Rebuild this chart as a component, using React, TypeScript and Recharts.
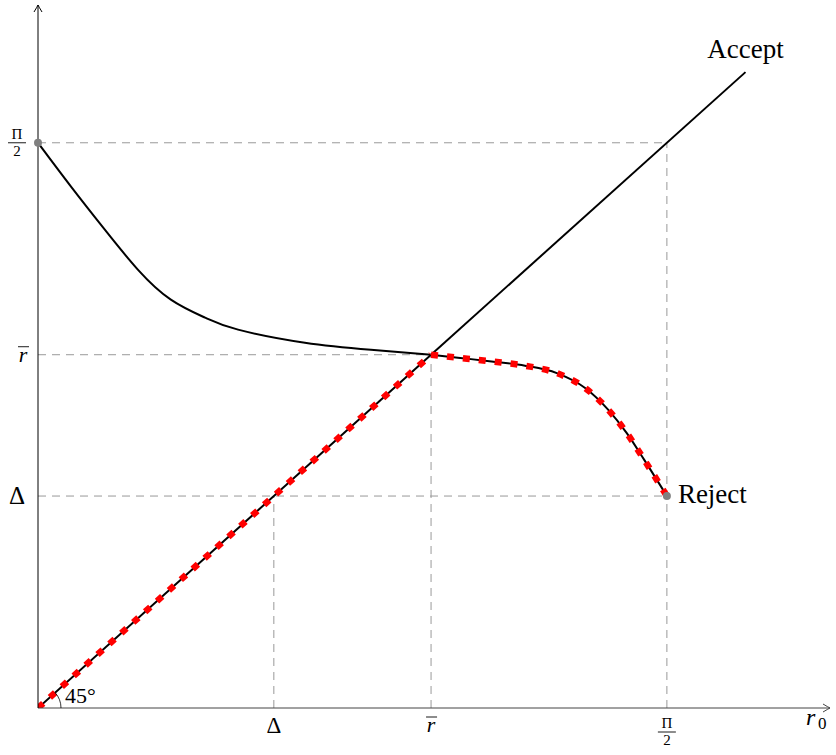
import React from "react";
import { LineChart, Line, XAxis, YAxis, ReferenceLine, ReferenceDot } from "recharts";

const DELTA = 0.6;
const RBAR = 1;
const HALF_PI = 1.6;
const X_MAX = 2.015;
const Y_MAX = 1.99;

const xTicks = [DELTA, RBAR, HALF_PI];
const yTicks = [DELTA, RBAR, HALF_PI];

const diagX = [0, 1];
const diagY = [0, 1];
const acceptX = [1, 1.8];
const acceptY = [1, 1.8];
const upperX = [0, 0.084, 0.17, 0.254, 0.338, 0.425, 0.509, 0.679, 0.847, 1];
const upperY = [1.6, 1.476, 1.354, 1.241, 1.156, 1.105, 1.071, 1.034, 1.014, 1];
const lowerX = [1, 1.074, 1.154, 1.239, 1.32, 1.392, 1.451, 1.498, 1.542, 1.6];
const lowerY = [1, 0.991, 0.981, 0.969, 0.948, 0.906, 0.844, 0.778, 0.703, 0.6];

const zip = (xs: number[], ys: number[]) => xs.map((x, i) => ({ x, y: ys[i] }));
const diagData = zip(diagX, diagY);
const acceptData = zip(acceptX, acceptY);
const upperData = zip(upperX, upperY);
const lowerData = zip(lowerX, lowerY);

const FONT = "'Liberation Serif', 'DejaVu Serif', serif";
const GRID = "#999";

const HalfPi = ({ cx, top }: { cx: number; top: number }) => (
  <g>
    <text x={cx} y={top + 12} textAnchor="middle" fontFamily={FONT} fontSize={15} fill="#000">Π</text>
    <line x1={cx - 9} x2={cx + 9} y1={top + 16} y2={top + 16} stroke="#000" strokeWidth={0.9} />
    <text x={cx} y={top + 29} textAnchor="middle" fontFamily={FONT} fontSize={15} fill="#000">2</text>
  </g>
);

const RBarLabel = ({ cx, base }: { cx: number; base: number }) => (
  <g>
    <text x={cx} y={base} textAnchor="middle" fontFamily={FONT} fontStyle="italic" fontSize={22} fill="#000">r</text>
    <line x1={cx - 5} x2={cx + 6} y1={base - 15} y2={base - 15} stroke="#000" strokeWidth={0.9} />
  </g>
);

const XTick = (props: any) => {
  const { x, y, payload } = props;
  const v = payload.value;
  if (v === DELTA)
    return <text x={x} y={y + 25} textAnchor="middle" fontFamily={FONT} fontSize={23} fill="#000">Δ</text>;
  if (v === RBAR) return <RBarLabel cx={x} base={y + 24} />;
  return <HalfPi cx={x} top={y + 8} />;
};

const YTick = (props: any) => {
  const { x, y, payload } = props;
  const v = payload.value;
  if (v === DELTA)
    return <text x={x - 21} y={y + 8} textAnchor="middle" fontFamily={FONT} fontSize={25} fill="#000">Δ</text>;
  if (v === RBAR) return <RBarLabel cx={x - 15} base={y + 7} />;
  return <HalfPi cx={x - 21} top={y - 16} />;
};

const greyDot = (label?: string) => (p: any) => (
  <g>
    <circle cx={p.cx} cy={p.cy} r={4} fill="#808080" />
    {label ? (
      <text x={p.cx + 11} y={p.cy + 7} fontFamily={FONT} fontSize={27} fill="#000">{label}</text>
    ) : null}
  </g>
);

const acceptLabel = (p: any) => (
  <text x={p.cx} y={p.cy - 14} textAnchor="middle" fontFamily={FONT} fontSize={27} fill="#000">Accept</text>
);

const angleMark = (p: any) => {
  const r = 23;
  const a = Math.atan2(353, 393);
  const x2 = p.cx + r * Math.cos(a);
  const y2 = p.cy - r * Math.sin(a);
  return (
    <g>
      <path d={`M ${p.cx + r} ${p.cy} A ${r} ${r} 0 0 0 ${x2} ${y2}`} fill="none" stroke="#000" strokeWidth={0.8} />
      <text x={p.cx + 27} y={p.cy - 5} fontFamily={FONT} fontSize={22} fill="#000">45°</text>
    </g>
  );
};

const arrowRight = (p: any) => (
  <path d={`M ${p.cx - 7} ${p.cy - 4} Q ${p.cx - 2} ${p.cy - 1} ${p.cx} ${p.cy} Q ${p.cx - 2} ${p.cy + 1} ${p.cx - 7} ${p.cy + 4}`} fill="none" stroke="#444" strokeWidth={1} />
);
const arrowUp = (p: any) => (
  <path d={`M ${p.cx - 4} ${p.cy + 7} Q ${p.cx - 1} ${p.cy + 2} ${p.cx} ${p.cy} Q ${p.cx + 1} ${p.cy + 2} ${p.cx + 4} ${p.cy + 7}`} fill="none" stroke="#000" strokeWidth={1} />
);

const r0Label = (p: any) => (
  <g>
    <text x={p.cx - 24} y={p.cy + 17} fontFamily={FONT} fontStyle="italic" fontSize={24} fill="#000">r</text>
    <text x={p.cx - 12} y={p.cy + 21} fontFamily={FONT} fontSize={17} fill="#000">0</text>
  </g>
);

export default function App() {
  return (
    <div style={{ position: "absolute", left: 0, top: 0, background: "#fff" }}>
      <LineChart width={836} height={755} margin={{ top: 5, right: 6, bottom: 0, left: 0 }}>
        <XAxis
          type="number"
          dataKey="x"
          domain={[0, X_MAX]}
          allowDataOverflow
          ticks={xTicks}
          tick={XTick}
          tickLine={false}
          tickSize={0}
          tickMargin={0}
          height={47}
          axisLine={{ stroke: "#444", strokeWidth: 1 }}
          interval={0}
        />
        <YAxis
          type="number"
          dataKey="y"
          domain={[0, Y_MAX]}
          allowDataOverflow
          ticks={yTicks}
          tick={YTick}
          tickLine={false}
          tickSize={0}
          tickMargin={0}
          width={38}
          axisLine={{ stroke: "#000", strokeWidth: 1 }}
          interval={0}
        />
        <ReferenceLine segment={[{ x: 0, y: HALF_PI }, { x: HALF_PI, y: HALF_PI }]} stroke={GRID} strokeDasharray="8 6" />
        <ReferenceLine segment={[{ x: 0, y: RBAR }, { x: RBAR, y: RBAR }]} stroke={GRID} strokeDasharray="8 6" />
        <ReferenceLine segment={[{ x: 0, y: DELTA }, { x: HALF_PI, y: DELTA }]} stroke={GRID} strokeDasharray="8 6" />
        <ReferenceLine segment={[{ x: DELTA, y: 0 }, { x: DELTA, y: DELTA }]} stroke={GRID} strokeDasharray="8 6" />
        <ReferenceLine segment={[{ x: RBAR, y: 0 }, { x: RBAR, y: RBAR }]} stroke={GRID} strokeDasharray="8 6" />
        <ReferenceLine segment={[{ x: HALF_PI, y: 0 }, { x: HALF_PI, y: HALF_PI }]} stroke={GRID} strokeDasharray="8 6" />

        <Line data={upperData} dataKey="y" type="natural" stroke="#000" strokeWidth={2} dot={false} isAnimationActive={false} />
        <Line data={acceptData} dataKey="y" type="linear" stroke="#000" strokeWidth={2} dot={false} isAnimationActive={false} />
        <Line data={diagData} dataKey="y" type="linear" stroke="#000" strokeWidth={2} dot={false} isAnimationActive={false} />
        <Line data={lowerData} dataKey="y" type="monotone" stroke="#000" strokeWidth={2} dot={false} isAnimationActive={false} />
        <Line data={diagData} dataKey="y" type="linear" stroke="#ff0000" strokeWidth={6.5} strokeDasharray="7 9" strokeLinecap="butt" dot={false} isAnimationActive={false} />
        <Line data={lowerData} dataKey="y" type="monotone" stroke="#ff0000" strokeWidth={6.5} strokeDasharray="7 9" strokeLinecap="butt" dot={false} isAnimationActive={false} />

        <ReferenceDot x={0} y={HALF_PI} shape={greyDot()} ifOverflow="visible" />
        <ReferenceDot x={HALF_PI} y={DELTA} shape={greyDot("Reject")} ifOverflow="visible" />
        <ReferenceDot x={acceptX[1]} y={acceptY[1]} shape={acceptLabel} ifOverflow="visible" />
        <ReferenceDot x={0} y={0} shape={angleMark} ifOverflow="visible" />
        <ReferenceDot x={X_MAX} y={0} shape={arrowRight} ifOverflow="visible" />
        <ReferenceDot x={X_MAX} y={0} shape={r0Label} ifOverflow="visible" />
        <ReferenceDot x={0} y={Y_MAX} shape={arrowUp} ifOverflow="visible" />
      </LineChart>
    </div>
  );
}
